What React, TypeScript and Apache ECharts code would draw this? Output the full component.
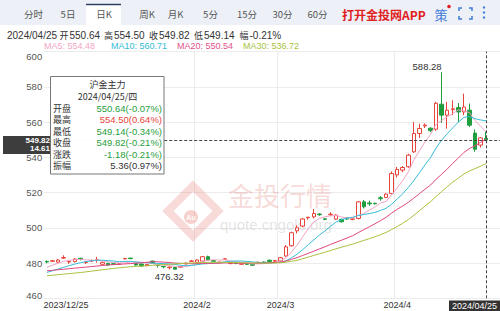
import React, { useEffect, useRef } from 'react';
import * as echarts from 'echarts';

const dates = [
  '2023/12/25', '2023/12/26', '2023/12/27', '2023/12/28', '2023/12/29',
  '2024/01/02', '2024/01/03', '2024/01/04', '2024/01/05', '2024/01/08', '2024/01/09', '2024/01/10', '2024/01/11', '2024/01/12',
  '2024/01/15', '2024/01/16', '2024/01/17', '2024/01/18', '2024/01/19', '2024/01/22', '2024/01/23', '2024/01/24', '2024/01/25',
  '2024/01/26', '2024/01/29', '2024/01/30', '2024/01/31',
  '2024/02/01', '2024/02/02', '2024/02/05', '2024/02/06', '2024/02/07', '2024/02/08', '2024/02/19', '2024/02/20', '2024/02/21',
  '2024/02/22', '2024/02/23', '2024/02/26', '2024/02/27', '2024/02/28', '2024/02/29',
  '2024/03/01', '2024/03/04', '2024/03/05', '2024/03/06', '2024/03/07', '2024/03/08', '2024/03/11', '2024/03/12', '2024/03/13',
  '2024/03/14', '2024/03/15', '2024/03/18', '2024/03/19', '2024/03/20', '2024/03/21', '2024/03/22', '2024/03/25', '2024/03/26',
  '2024/03/27', '2024/03/28', '2024/03/29',
  '2024/04/01', '2024/04/02', '2024/04/03', '2024/04/08', '2024/04/09', '2024/04/10', '2024/04/11', '2024/04/12', '2024/04/15',
  '2024/04/16', '2024/04/17', '2024/04/18', '2024/04/19', '2024/04/22', '2024/04/23', '2024/04/24', '2024/04/25',
];

const opens = [
  480.9, 481.0, 480.5, 482.8, 480.6, 480.8, 482.7, 480.3, 481.2, 481.5,
  479.3, 479.8, 479.6, 479.3, 482.4, 482.8, 479.8, 479.4, 478.5, 481.1,
  478.9, 478.0, 477.4, 477.5, 477.6, 479.5, 480.9, 480.4, 481.1, 483.6,
  481.4, 480.2, 482.1, 479.7, 480.0, 479.3, 479.6, 479.1, 480.1, 480.6,
  481.6, 481.0, 481.2, 484.0, 489.8, 498.3, 501.0, 505.7, 506.2, 507.8,
  505.1, 507.4, 504.9, 504.8, 505.6, 504.8, 505.3, 514.7, 514.1, 513.9,
  517.0, 517.2, 519.5, 530.0, 532.7, 534.6, 543.1, 553.5, 557.8, 556.5,
  555.9, 570.1, 563.9, 567.0, 568.2, 565.7, 566.7, 553.7, 546.9, 550.64,
];
const closes = [
  480.6, 481.3, 481.7, 483.1, 480.9, 482.3, 482.4, 480.6, 481.4, 481.8,
  480.4, 478.9, 479.3, 479.6, 482.6, 482.5, 478.9, 478.3, 479.2, 479.8,
  478.6, 477.9, 477.7, 476.5, 478.0, 479.9, 481.2, 481.7, 483.6, 481.7,
  481.0, 480.5, 482.4, 480.0, 479.7, 479.6, 479.3, 478.8, 480.4, 480.3,
  480.9, 481.4, 483.0, 489.2, 497.2, 500.0, 505.0, 506.0, 508.1, 507.4,
  504.8, 507.7, 507.2, 503.4, 505.0, 505.0, 514.7, 511.9, 513.6, 513.6,
  516.5, 519.1, 530.8, 533.1, 534.2, 541.2, 553.5, 556.3, 558.3, 555.1,
  570.6, 563.9, 566.7, 567.5, 565.7, 568.5, 558.2, 544.6, 551.0, 549.82,
];
const lows = [
  479.9, 480.6, 480.2, 482.3, 479.6, 480.3, 481.5, 479.4, 480.5, 480.2,
  478.9, 478.5, 478.9, 479.0, 482.0, 482.2, 478.6, 478.0, 478.2, 479.5,
  477.4, 477.0, 476.32, 476.4, 477.3, 479.2, 480.5, 480.1, 480.8, 481.4,
  480.6, 479.9, 481.9, 479.3, 479.4, 479.0, 479.0, 478.5, 479.9, 480.0,
  480.7, 480.7, 480.9, 483.5, 489.3, 496.8, 500.3, 504.6, 505.3, 506.8,
  504.3, 506.6, 504.5, 503.0, 504.4, 504.3, 504.8, 511.0, 512.4, 513.2,
  515.4, 516.8, 519.0, 528.5, 531.5, 534.0, 542.5, 551.0, 556.6, 554.2,
  555.0, 559.5, 556.3, 563.9, 560.0, 563.9, 557.2, 543.1, 545.5, 549.14,
];
const highs = [
  481.5, 481.8, 482.3, 484.4, 481.8, 482.8, 483.0, 481.0, 482.0, 483.5,
  480.8, 480.2, 479.9, 480.0, 482.9, 483.0, 480.1, 479.7, 479.5, 481.4,
  479.0, 478.2, 478.0, 477.8, 478.3, 480.3, 481.8, 482.2, 484.0, 484.2,
  481.7, 480.8, 482.9, 480.4, 480.3, 480.0, 479.9, 479.4, 480.8, 480.9,
  481.9, 481.7, 483.5, 490.2, 497.8, 501.4, 505.6, 506.2, 510.7, 508.3,
  505.5, 508.9, 507.6, 505.1, 505.9, 505.3, 515.2, 515.8, 515.4, 514.2,
  518.0, 519.6, 532.0, 534.5, 535.0, 542.0, 560.0, 559.0, 559.2, 557.0,
  571.5, 588.28, 571.4, 572.3, 570.8, 576.1, 570.5, 555.8, 551.5, 554.5,
];

const ma5 = [
  477.6, 478.8, 479.9, 481.0, 481.52, 481.86, 482.08, 481.86, 481.52, 481.70,
  481.32, 480.62, 480.36, 480.00, 480.16, 480.58, 480.58, 480.38, 480.30, 479.74,
  478.96, 478.76, 478.64, 478.10, 477.74, 478.00, 478.66, 479.46, 480.88, 481.62,
  481.84, 481.70, 481.84, 481.12, 480.72, 480.44, 480.20, 479.48, 479.56, 479.68,
  479.94, 480.36, 481.20, 482.96, 486.34, 490.16, 494.88, 499.48, 503.26, 505.30,
  506.26, 506.80, 507.04, 506.10, 505.62, 505.66, 507.06, 508.00, 510.04, 511.76,
  514.06, 514.94, 518.72, 522.62, 526.74, 531.68, 538.56, 543.66, 548.70, 552.88,
  558.76, 560.84, 562.92, 564.76, 566.88, 566.46, 565.32, 560.90, 557.60, 554.42,
];
const ma10 = [
  474.7, 475.6, 476.6, 477.6, 478.5, 479.4, 480.2, 480.8, 481.3, 481.61,
  481.59, 481.35, 481.11, 480.76, 480.93, 480.95, 480.60, 480.37, 480.15, 479.95,
  479.77, 479.67, 479.51, 479.20, 478.74, 478.48, 478.71, 479.05, 479.49, 479.68,
  479.92, 480.18, 480.65, 481.00, 481.17, 481.14, 480.95, 480.66, 480.34, 480.20,
  480.19, 480.28, 480.34, 481.26, 483.01, 485.05, 487.62, 490.34, 493.11, 495.82,
  498.21, 500.84, 503.26, 504.68, 505.46, 505.96, 506.93, 507.52, 508.07, 508.69,
  509.86, 511.00, 513.36, 516.33, 519.25, 522.87, 526.75, 531.19, 535.66, 539.81,
  545.22, 549.70, 553.29, 556.73, 559.88, 562.61, 563.08, 561.91, 561.18, 560.65,
];
const ma20 = [
  475.6, 475.9, 476.2, 476.5, 476.8, 477.1, 477.4, 477.7, 478.0, 478.3,
  478.6, 478.9, 479.1, 479.3, 479.5, 479.7, 479.9, 480.1, 480.4, 480.78,
  480.68, 480.51, 480.31, 479.98, 479.84, 479.72, 479.66, 479.71, 479.82, 479.82,
  479.85, 479.93, 480.08, 480.10, 479.96, 479.81, 479.83, 479.86, 479.92, 479.94,
  480.06, 480.23, 480.50, 481.13, 482.09, 483.10, 484.29, 485.50, 486.73, 488.01,
  489.20, 490.56, 491.80, 492.97, 494.24, 495.51, 497.28, 498.93, 500.59, 502.26,
  504.04, 505.92, 508.31, 510.51, 512.36, 514.42, 516.84, 519.36, 521.87, 524.25,
  527.54, 530.35, 533.33, 536.53, 539.57, 542.74, 544.92, 546.55, 548.42, 550.23,
];
const ma30 = [
  472.8, 473.1, 473.4, 473.7, 474.0, 474.3, 474.6, 475.0, 475.4, 475.8,
  476.2, 476.6, 477.0, 477.3, 477.6, 477.9, 478.1, 478.3, 478.5, 478.7,
  478.9, 479.1, 479.3, 479.5, 479.7, 479.9, 480.0, 480.1, 480.3, 480.41,
  480.43, 480.40, 480.42, 480.32, 480.28, 480.19, 480.09, 480.03, 479.99, 479.94,
  479.96, 480.04, 480.17, 480.49, 480.97, 481.56, 482.43, 483.35, 484.31, 485.23,
  486.11, 487.10, 488.08, 488.98, 489.88, 490.72, 491.83, 492.84, 493.84, 494.90,
  496.09, 497.37, 498.99, 500.76, 502.57, 504.63, 507.10, 509.68, 512.28, 514.77,
  517.76, 520.51, 523.30, 525.91, 528.20, 530.48, 532.25, 533.54, 534.97, 536.39,
];

const monthTickIndex = [0, 27, 42, 63];
const monthTickLabels = ['2023/12/25', '2024/2', '2024/3', '2024/4'];
const splitIndex = [27, 42, 63];

const tabs = ['分时', '5日', '日K', '周K', '月K', '5分', '15分', '30分', '60分'];
const tabCenters = [33.5, 68, 104, 147, 175.5, 210.5, 247, 282.5, 317.5];

const infoLabels = ['开', '高', '收', '低', '幅'];
const infoValues = ['550.64', '554.50', '549.82', '549.14', '-0.21%'];
const infoLabelX = [59.5, 104, 149, 194, 239.5];
const infoValueX = [69.5, 114, 159, 204, 249.5];

const maLegend = ['MA5: 554.48', 'MA10: 560.71', 'MA20: 550.54', 'MA30: 536.72'];
const maColors = ['#f2a5c6', '#35bcd6', '#e2528a', '#a8c43e'];
const maLegendX = [44, 111, 177, 243];

const tipTitle = '沪金主力';
const tipDate = '2024/04/25/四';
const tipLabels = ['开盘', '最高', '最低', '收盘', '涨跌', '振幅'];
const tipValues = ['550.64(-0.07%)', '554.50(0.64%)', '549.14(-0.34%)', '549.82(-0.21%)', '-1.18(-0.21%)', '5.36(0.97%)'];
const UP = '#e8443a';
const DOWN = '#1f9e3e';
const tipColors = [DOWN, UP, DOWN, DOWN, DOWN, '#333'];

const lastIdx = 79;
const lastClose = 549.82;
const highIdx = 71;
const lowIdx = 22;

const FONT = "'Liberation Sans', 'Noto Sans CJK SC', sans-serif";
const CJK = "'Noto Sans CJK SC', 'Liberation Sans', sans-serif";

export default function App() {
  const ref = useRef<HTMLDivElement>(null);

  useEffect(() => {
    if (!ref.current) return;
    const chart = echarts.init(ref.current, undefined, { renderer: 'svg' });

    const candles = dates.map((_, i) => [opens[i], closes[i], lows[i], highs[i]]);

    const graphics: any[] = [];
    // watermark
    graphics.push(
      {
        type: 'polygon', silent: true, z: 1,
        shape: { points: [[193, 186], [218, 211], [193, 236], [168, 211]] },
        style: { fill: 'rgba(255,255,255,0)', stroke: 'rgba(228,120,110,0.27)', lineWidth: 8 },
      },
      { type: 'circle', silent: true, z: 1, shape: { cx: 191, cy: 217, r: 7 }, style: { fill: 'rgba(228,120,110,0.34)' } },
      {
        type: 'text', silent: true, z: 1, x: 191, y: 217,
        style: { text: 'Au', fill: 'rgba(255,255,255,0.95)', font: `bold 7px ${FONT}`, align: 'center', verticalAlign: 'middle' },
      },
      {
        type: 'text', silent: true, z: 1, x: 228, y: 194,
        style: { text: '金投行情', fill: 'rgba(228,130,120,0.3)', font: `26px ${CJK}`, verticalAlign: 'middle' },
      },
      {
        type: 'text', silent: true, z: 1, x: 220, y: 224,
        style: { text: 'quote.cngold.org', fill: 'rgba(170,170,170,0.32)', font: `15px ${FONT}`, verticalAlign: 'middle' },
      },
    );

    // toolbar
    graphics.push(
      { type: 'rect', z: 20, shape: { x: 0, y: 0, width: 500, height: 25 }, style: { fill: '#edf1f7' } },
      { type: 'rect', z: 21, shape: { x: 86, y: 4, width: 35, height: 21 }, style: { fill: '#ffffff' } },
      { type: 'line', z: 22, shape: { x1: 86, y1: 4.5, x2: 121, y2: 4.5 }, style: { stroke: '#2f3f63', lineWidth: 1.5 } },
    );
    tabs.forEach((t, i) => {
      graphics.push({
        type: 'text', z: 23, x: tabCenters[i], y: 14,
        style: { text: t, fill: '#555', font: `9.5px ${CJK}`, align: 'center', verticalAlign: 'middle' },
      });
    });
    graphics.push(
      {
        type: 'text', z: 23, x: 342, y: 14,
        style: { text: '打开金投网APP', fill: '#e0201c', font: `bold 12px ${CJK}`, verticalAlign: 'middle' },
      },
      {
        type: 'text', z: 23, x: 441, y: 14,
        style: { text: '策', fill: '#3d7bd9', font: `13px ${CJK}`, align: 'center', verticalAlign: 'middle' },
      },
      { type: 'circle', z: 24, shape: { cx: 449, cy: 6.5, r: 1.8 }, style: { fill: '#e02020' } },
      { type: 'polyline', z: 23, shape: { points: [[459, 11], [459, 8], [462, 8]] }, style: { stroke: '#3d7bd9', lineWidth: 1.5, fill: 'none' } },
      { type: 'polyline', z: 23, shape: { points: [[469, 8], [472, 8], [472, 11]] }, style: { stroke: '#3d7bd9', lineWidth: 1.5, fill: 'none' } },
      { type: 'polyline', z: 23, shape: { points: [[459, 16], [459, 19], [462, 19]] }, style: { stroke: '#3d7bd9', lineWidth: 1.5, fill: 'none' } },
      { type: 'polyline', z: 23, shape: { points: [[469, 19], [472, 19], [472, 16]] }, style: { stroke: '#3d7bd9', lineWidth: 1.5, fill: 'none' } },
      { type: 'circle', z: 23, shape: { cx: 484, cy: 7.5, r: 1.2 }, style: { fill: '#3d7bd9' } },
      { type: 'circle', z: 23, shape: { cx: 484, cy: 12.5, r: 1.2 }, style: { fill: '#3d7bd9' } },
      { type: 'circle', z: 23, shape: { cx: 484, cy: 17.5, r: 1.2 }, style: { fill: '#3d7bd9' } },
    );

    // info row
    graphics.push({
      type: 'text', z: 23, x: 7, y: 35,
      style: { text: dates[lastIdx], fill: '#333', font: `10px ${FONT}`, verticalAlign: 'middle' },
    });
    infoLabels.forEach((t, i) => {
      graphics.push(
        { type: 'text', z: 23, x: infoLabelX[i], y: 35, style: { text: t, fill: '#333', font: `9px ${CJK}`, verticalAlign: 'middle', lineHeight: 11 } },
        { type: 'text', z: 23, x: infoValueX[i], y: 35, style: { text: infoValues[i], fill: '#333', font: `10px ${FONT}`, verticalAlign: 'middle' } },
      );
    });
    maLegend.forEach((t, i) => {
      graphics.push({
        type: 'text', z: 23, x: maLegendX[i], y: 46,
        style: { text: t, fill: maColors[i], font: `9px ${FONT}`, verticalAlign: 'middle' },
      });
    });

    // y pointer label
    graphics.push(
      { type: 'rect', z: 30, shape: { x: 3, y: 136, width: 56, height: 18 }, style: { fill: '#3d3d3d' } },
      { type: 'text', z: 31, x: 50, y: 140.5, style: { text: '549.82', fill: '#fff', font: `bold 8px ${FONT}`, align: 'right', verticalAlign: 'middle', lineHeight: 8 } },
      { type: 'text', z: 31, x: 50, y: 148, style: { text: '14.61', fill: '#fff', font: `bold 8px ${FONT}`, align: 'right', verticalAlign: 'middle', lineHeight: 8 } },
    );
    // x pointer label
    graphics.push(
      { type: 'rect', z: 30, shape: { x: 449, y: 300.5, width: 51, height: 10.5 }, style: { fill: '#333' } },
      { type: 'text', z: 31, x: 474.5, y: 306, style: { text: dates[lastIdx], fill: '#fff', font: `9px ${FONT}`, align: 'center', verticalAlign: 'middle' } },
    );

    // tooltip
    graphics.push(
      { type: 'rect', z: 40, shape: { x: 50.5, y: 76.5, width: 113.5, height: 97.5 }, style: { fill: 'rgba(255,255,255,0.97)', stroke: '#777', lineWidth: 1 } },
      { type: 'text', z: 41, x: 107.5, y: 84.5, style: { text: tipTitle, fill: '#333', font: `9px ${CJK}`, align: 'center', verticalAlign: 'middle', lineHeight: 10.5 } },
      { type: 'text', z: 41, x: 107.5, y: 96, style: { text: tipDate, fill: '#333', font: `9px ${CJK}`, align: 'center', verticalAlign: 'middle', lineHeight: 10.5 } },
    );
    tipLabels.forEach((t, i) => {
      const y = 108 + i * 11.5;
      graphics.push(
        { type: 'text', z: 41, x: 53, y, style: { text: t, fill: '#333', font: `9px ${CJK}`, verticalAlign: 'middle', lineHeight: 10.5 } },
        { type: 'text', z: 41, x: 162, y, style: { text: tipValues[i], fill: tipColors[i], font: `9.5px ${FONT}`, align: 'right', verticalAlign: 'middle', lineHeight: 10.5 } },
      );
    });

    const lineSeries = (name: string, data: number[], color: string) => ({
      name,
      type: 'line',
      data,
      showSymbol: false,
      symbol: 'none',
      lineStyle: { width: 1, color },
      itemStyle: { color },
      silent: true,
      z: 3,
    });

    chart.setOption({
      animation: false,
      textStyle: { fontFamily: FONT },
      grid: { left: 44.2, right: 0, top: 51.5, bottom: 12.7, containLabel: false },
      xAxis: {
        type: 'category',
        data: dates,
        max: dates.length + 1,
        boundaryGap: true,
        axisLine: { show: false },
        axisTick: { show: false },
        axisLabel: {
          interval: (idx: number) => monthTickIndex.includes(idx),
          formatter: (_v: string, idx: number) => {
            const k = monthTickIndex.indexOf(idx);
            if (k < 0) return '';
            return k === 0 ? `{l|${monthTickLabels[k]}}` : monthTickLabels[k];
          },
          rich: { l: { padding: [0, 0, 0, 38], fontSize: 9, color: '#333', fontFamily: FONT } },
          color: '#333',
          fontSize: 9,
          margin: 2,
        },
        splitLine: {
          show: true,
          interval: (idx: number) => splitIndex.includes(idx),
          lineStyle: { color: '#ececec', width: 1 },
        },
      },
      yAxis: {
        type: 'value',
        min: 460,
        max: 600,
        interval: 20,
        position: 'left',
        axisLine: { show: false },
        axisTick: { show: false },
        axisLabel: {
          color: '#555',
          fontSize: 9.5,
          lineHeight: 10,
          margin: 2,
          formatter: (v: number) => (v === 600 ? '{t|600}' : v === 460 ? '{b|460}' : String(v)),
          rich: {
            t: { padding: [9, 0, 0, 0], fontSize: 9.5, lineHeight: 10, color: '#555', fontFamily: FONT },
            b: { padding: [0, 0, 6, 0], fontSize: 9.5, lineHeight: 10, color: '#555', fontFamily: FONT },
          },
        },
        splitLine: { show: true, lineStyle: { color: '#ececec', width: 1 } },
      },
      series: [
        {
          name: 'K',
          type: 'candlestick',
          data: candles,
          barWidth: 4,
          z: 2,
          itemStyle: {
            color: '#ffffff',
            color0: DOWN,
            borderColor: UP,
            borderColor0: DOWN,
            borderWidth: 1,
          },
          markPoint: {
            symbol: 'circle',
            symbolSize: 0,
            silent: true,
            data: [
              {
                coord: [dates[highIdx], highs[highIdx]],
                label: { show: true, position: 'top', distance: 1, align: 'right', formatter: highs[highIdx].toFixed(2), color: '#333', fontSize: 9.5 },
              },
              {
                coord: [dates[lowIdx], lows[lowIdx]],
                label: { show: true, position: 'bottom', distance: 2, formatter: lows[lowIdx].toFixed(2), color: '#333', fontSize: 9.5 },
              },
            ],
          },
          markLine: {
            symbol: ['none', 'none'],
            silent: true,
            label: { show: false },
            lineStyle: { type: [3, 2], color: '#444', width: 1 },
            data: [{ xAxis: dates[lastIdx] }, { yAxis: lastClose }],
          },
        },
        lineSeries('MA5', ma5, '#f0a3c6'),
        lineSeries('MA10', ma10, '#37bdd7'),
        lineSeries('MA20', ma20, '#e0467f'),
        lineSeries('MA30', ma30, '#a9c23f'),
      ],
      graphic: graphics,
    });

    return () => chart.dispose();
  }, []);

  return (
    <div
      ref={ref}
      style={{ position: 'fixed', left: 0, top: 0, width: 500, height: 311, background: '#fff' }}
    />
  );
}
